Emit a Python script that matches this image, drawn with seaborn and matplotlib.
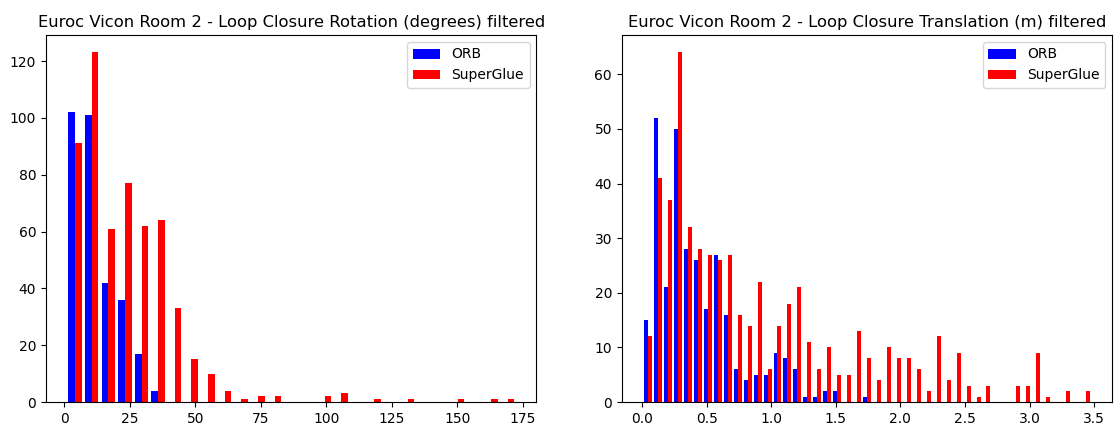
import numpy as np
import pandas as pd
import matplotlib
matplotlib.use("Agg")
import matplotlib.pyplot as plt
from matplotlib.transforms import Bbox, TransformedBbox
import seaborn as sns

methods = ["ORB", "SuperGlue"]
palette = {"ORB": "blue", "SuperGlue": "red"}

# Loop closure rotation error (degrees): 27 equal bins over the data range
rot_range = (0.88, 172.3)
rot_orb = [102, 101, 42, 36, 17, 4, 0, 0, 0, 0, 0, 0, 0, 0,
           0, 0, 0, 0, 0, 0, 0, 0, 0, 0, 0, 0, 0]
rot_superglue = [91, 123, 61, 77, 62, 64, 33, 15, 10, 4, 1, 2, 2, 0,
                 0, 2, 3, 0, 1, 0, 1, 0, 0, 1, 0, 1, 1]

# Loop closure translation error (m): 45 equal bins over the data range
trans_range = (0.007, 3.476)
trans_orb = [15, 52, 21, 50, 28, 26, 17, 27, 16, 6, 4, 5, 5, 9, 8,
             6, 1, 1, 2, 2, 0, 0, 1, 0, 0, 0, 0, 0, 0, 0,
             0, 0, 0, 0, 0, 0, 0, 0, 0, 0, 0, 0, 0, 0, 0]
trans_superglue = [12, 41, 37, 64, 32, 28, 27, 26, 27, 16, 14, 22, 6, 14, 18,
                   21, 11, 6, 10, 5, 5, 13, 8, 4, 10, 8, 8, 6, 2, 12,
                   4, 9, 3, 1, 3, 0, 0, 3, 3, 9, 1, 0, 2, 0, 2]


def draw_hist(ax, orb, superglue, data_range, title):
    n = len(orb)
    edges = np.linspace(data_range[0], data_range[1], n + 1)
    centers = (edges[:-1] + edges[1:]) / 2
    df = pd.DataFrame({
        "value": np.concatenate([centers, centers]),
        "count": orb + superglue,
        "method": ["ORB"] * n + ["SuperGlue"] * n,
    })
    sns.histplot(data=df, x="value", weights="count", hue="method",
                 hue_order=methods, bins=n, binrange=data_range,
                 multiple="dodge", shrink=1, palette=palette, alpha=1,
                 linewidth=0, ax=ax)

    # group the two bars like plt.hist does: together 80% of the bin, touching
    for p in ax.patches:
        w = p.get_width()
        if p.get_facecolor()[0] == 0:  # ORB (blue) bar sits on the left
            p.set_x(p.get_x() + 0.2 * w)
        p.set_width(0.8 * w)
        p.sticky_edges.x.clear()
    ax.relim()
    ax.autoscale_view()

    ax.set_xlabel("")
    ax.set_ylabel("")
    sns.move_legend(ax, "upper right", title=None)
    return ax.set_title(title, fontsize=11.75)


fig, axes = plt.subplots(1, 2, figsize=(11.14, 4.24), dpi=100)
fig.subplots_adjust(left=46 / 1114, right=1112.3 / 1114,
                    bottom=1 - 402 / 424, top=1 - 35 / 424, wspace=0.174)

t = draw_hist(axes[0], rot_orb, rot_superglue, rot_range,
              "Euroc Vicon Room 2 - Loop Closure Rotation (degrees) filtered")
# the left title runs past its panel and is cut off in the original
t.set_clip_box(TransformedBbox(Bbox([[0, 0], [545 / 1114, 1]]), fig.transFigure))
t.set_clip_on(True)

draw_hist(axes[1], trans_orb, trans_superglue, trans_range,
          "Euroc Vicon Room 2 - Loop Closure Translation (m) filtered")

plt.savefig("out.png", dpi=100)
